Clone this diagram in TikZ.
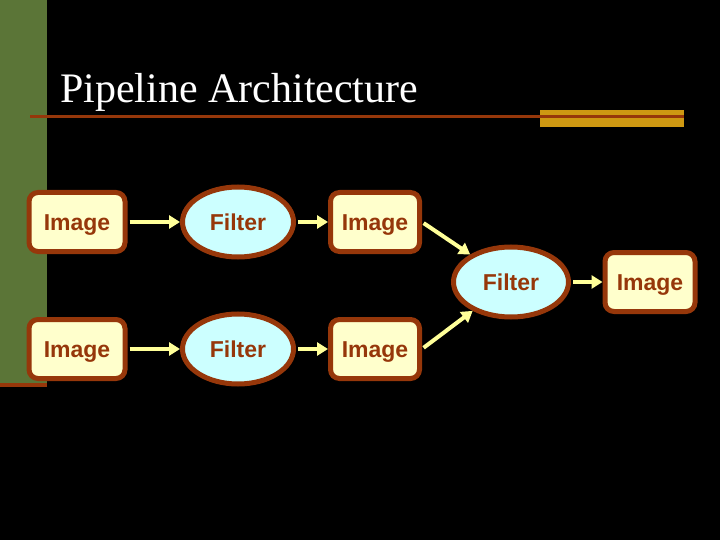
\documentclass[tikz,border=0pt]{standalone}
\usepackage{fontspec}
\setmainfont{Liberation Serif}
\newfontfamily\arialfont{Liberation Sans}
\usepackage{xcolor}
\usepackage{tikz}
\usetikzlibrary{arrows.meta,shapes.geometric}
\definecolor{slidegreen}{RGB}{91,117,55}
\definecolor{rustbrown}{RGB}{150,55,10}
\definecolor{barGold}{RGB}{206,152,18}
\definecolor{imgfill}{RGB}{255,255,204}
\definecolor{filtfill}{RGB}{204,255,255}
\definecolor{flowyellow}{RGB}{255,255,153}

\begin{document}
\begin{tikzpicture}[x=1pt,y=-1pt,
 imgbox/.style={draw=rustbrown,line width=5pt,rounded corners=9pt,fill=imgfill,minimum width=89pt,minimum height=59pt,text height=17pt,text depth=1pt,text=rustbrown,font=\arialfont\fontsize{23}{27}\selectfont\bfseries},
 widebox/.style={imgbox,minimum width=96pt},
 filt/.style={ellipse,draw=rustbrown,line width=5pt,fill=filtfill,minimum width=111pt,minimum height=70pt,inner sep=0pt,text height=17pt,text depth=1pt,text=rustbrown,font=\arialfont\fontsize{23}{27}\selectfont\bfseries},
 flow/.style={-{Triangle[length=11pt,width=13pt]},line width=4pt,draw=flowyellow,shorten <=2pt}
]
% slide background and decoration
\fill[black] (0,0) rectangle (720,540);
\useasboundingbox (0,0) rectangle (720,540);
\fill[slidegreen] (0,0) rectangle (47,383);
\fill[rustbrown] (0,383) rectangle (47,387);
\fill[barGold] (540,110) rectangle (684,127);
\draw[rustbrown,line width=3pt] (30,117) -- (684,117);
\node[anchor=base west,text=white,font=\fontsize{42}{48}\selectfont,inner sep=0pt] (title) at (60,103) {Pipeline Architecture};

% upper row
\node[widebox] (img1) at (77,222) {Image};
\node[filt] (filt1) at (238,222) {Filter};
\node[imgbox] (img2) at (375,222) {Image};
% lower row
\node[widebox] (img3) at (77,349) {Image};
\node[filt] (filt2) at (238,349) {Filter};
\node[imgbox] (img4) at (375,349) {Image};
% merge
\node[filt,minimum width=115pt] (filt3) at (511,282) {Filter};
\node[imgbox,minimum width=90pt] (img5) at (650,282) {Image};

\draw[flow] (img1) -- (filt1);
\draw[flow] (filt1) -- (img2);
\draw[flow] (img3) -- (filt2);
\draw[flow] (filt2) -- (img4);
\draw[flow] (img2.east) -- (filt3);
\draw[flow] (img4.east) -- (filt3);
\draw[flow] (filt3) -- (img5);
\end{tikzpicture}
\end{document}
